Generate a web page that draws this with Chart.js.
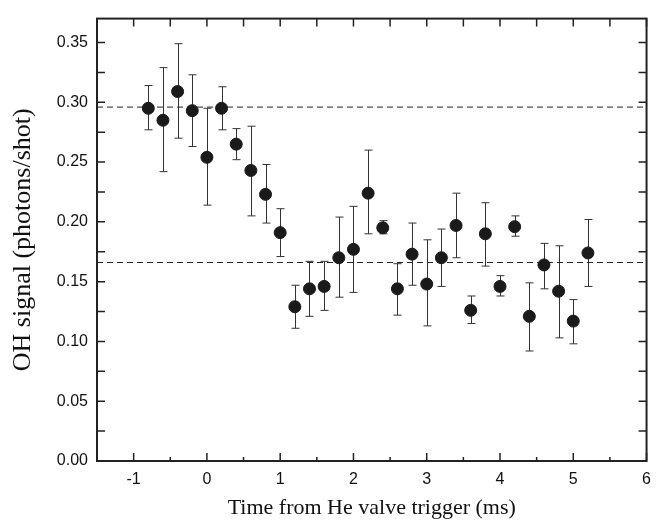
<!DOCTYPE html>
<html lang="en">
<head>
  <meta charset="UTF-8">
  <title>OH signal vs He valve trigger</title>
  <script src="https://cdn.jsdelivr.net/npm/chart.js"></script>
  <style>
    html, body { margin:0; background:#fff; }
    #wrap { width:660px; height:525px; }
  </style>
</head>
<body>
<div id="wrap"><canvas id="ohChart"></canvas></div>

<script>
// --- data ---
const times   = [-0.8,-0.6,-0.4,-0.2,0,0.2,0.4,0.6,0.8,1.0,1.2,1.4,1.6,1.8,2.0,2.2,2.4,2.6,2.8,3.0,3.2,3.4,3.6,3.8,4.0,4.2,4.4,4.6,4.8,5.0,5.2];
const signal  = [0.295,0.285,0.309,0.293,0.254,0.295,0.265,0.243,0.223,0.191,0.129,0.144,0.146,0.170,0.177,0.224,0.195,0.144,0.173,0.148,0.170,0.197,0.126,0.190,0.146,0.196,0.121,0.164,0.142,0.117,0.174];
const errHigh = [0.314,0.329,0.349,0.323,0.295,0.313,0.278,0.280,0.248,0.211,0.147,0.167,0.167,0.204,0.213,0.260,0.201,0.165,0.199,0.185,0.194,0.224,0.138,0.216,0.155,0.205,0.149,0.182,0.180,0.135,0.202];
const errLow  = [0.277,0.242,0.270,0.263,0.214,0.277,0.252,0.205,0.199,0.171,0.111,0.121,0.126,0.137,0.141,0.190,0.190,0.122,0.147,0.113,0.146,0.170,0.115,0.163,0.138,0.188,0.092,0.144,0.103,0.098,0.146];
const levelBefore = 0.296;   // upper dashed line
const levelAfter  = 0.166;   // lower dashed line

const xRange = [-1.5, 6];
const yRange = [0, 0.37];
const xTicks      = [-1,0,1,2,3,4,5,6];
const xMinorTicks = [-1.5,-0.5,0.5,1.5,2.5,3.5,4.5,5.5];
const yTicks      = [0,0.05,0.10,0.15,0.20,0.25,0.30,0.35];
const yMinorTicks = [0.025,0.075,0.125,0.175,0.225,0.275,0.325];

const xTitle = 'Time from He valve trigger (ms)';
const yTitle = 'OH signal (photons/shot)';

const INK = '#1a1a1a';

// error bars, drawn under the markers
const errorBars = {
  id:'errorBars',
  beforeDatasetsDraw(chart){
    const {ctx, scales:{x, y}} = chart;
    ctx.save();
    ctx.strokeStyle = '#333';
    ctx.lineWidth = 1;
    times.forEach((t,i) => {
      const px = Math.round(x.getPixelForValue(t)) + 0.5;
      const top = y.getPixelForValue(errHigh[i]);
      const bot = y.getPixelForValue(errLow[i]);
      ctx.beginPath();
      ctx.moveTo(px, top); ctx.lineTo(px, bot);
      ctx.moveTo(px-4, top); ctx.lineTo(px+4, top);
      ctx.moveTo(px-4, bot); ctx.lineTo(px+4, bot);
      ctx.stroke();
    });
    ctx.restore();
  }
};

// box frame with inward ticks on all four sides + rotated y title
const frame = {
  id:'frame',
  afterDraw(chart){
    const {ctx, chartArea:a, scales:{x, y}} = chart;
    ctx.save();
    ctx.strokeStyle = '#222';
    ctx.lineWidth = 1.5;
    ctx.beginPath();
    xTicks.forEach(v => {
      const p = x.getPixelForValue(v);
      ctx.moveTo(p, a.bottom); ctx.lineTo(p, a.bottom-8);
      ctx.moveTo(p, a.top);    ctx.lineTo(p, a.top+8);
    });
    xMinorTicks.forEach(v => {
      const p = x.getPixelForValue(v);
      ctx.moveTo(p, a.bottom); ctx.lineTo(p, a.bottom-4);
      ctx.moveTo(p, a.top);    ctx.lineTo(p, a.top+8);
    });
    yTicks.concat(yMinorTicks).forEach(v => {
      const p = y.getPixelForValue(v);
      ctx.moveTo(a.left, p);  ctx.lineTo(a.left+8, p);
      ctx.moveTo(a.right, p); ctx.lineTo(a.right-8, p);
    });
    ctx.stroke();
    ctx.lineWidth = 2;
    ctx.strokeRect(a.left, a.top, a.right-a.left, a.bottom-a.top);

    ctx.fillStyle = '#111';
    ctx.font = '26px "Liberation Serif", "Times New Roman", serif';
    ctx.textAlign = 'center';
    ctx.textBaseline = 'middle';
    ctx.translate(23, (a.top + a.bottom)/2);
    ctx.rotate(-Math.PI/2);
    ctx.fillText(yTitle, 0, 0);
    ctx.restore();
  }
};

const tickFont = {family:'"Liberation Sans", Arial, sans-serif', size:16};

new Chart(document.getElementById('ohChart'), {
  type:'scatter',
  data:{ datasets:[
    { label:'OH signal',
      data: times.map((t,i) => ({x:t, y:signal[i]})),
      backgroundColor:INK, borderColor:INK,
      pointRadius:6, pointHoverRadius:6 },
    { label:'before',
      data: xRange.map(v => ({x:v, y:levelBefore})),
      showLine:true, borderColor:'#222', borderWidth:1, borderDash:[6,4],
      pointRadius:0 },
    { label:'after',
      data: xRange.map(v => ({x:v, y:levelAfter})),
      showLine:true, borderColor:'#222', borderWidth:1, borderDash:[6,4],
      pointRadius:0 }
  ]},
  options:{
    responsive:true, maintainAspectRatio:false, animation:false,
    layout:{ padding:{ top:12, right:7, left:0, bottom:0 } },
    plugins:{ legend:{display:false}, tooltip:{enabled:false} },
    scales:{
      x:{
        type:'linear', min:xRange[0], max:xRange[1],
        afterBuildTicks: s => { s.ticks = xTicks.map(v => ({value:v})); },
        afterFit: s => { s.height = 64; },
        grid:{ display:false, drawTicks:false },
        border:{ display:false },
        ticks:{ font:tickFont, color:'#111', padding:9, maxRotation:0,
                callback: v => String(v) },
        title:{ display:true, text:xTitle, color:'#111',
                font:{ family:'"Liberation Serif", "Times New Roman", serif', size:22 },
                padding:{ top:0, bottom:4 } }
      },
      y:{
        type:'linear', min:yRange[0], max:yRange[1],
        afterBuildTicks: s => { s.ticks = yTicks.map(v => ({value:v})); },
        afterFit: s => { s.width = 97; },
        grid:{ display:false, drawTicks:false },
        border:{ display:false },
        ticks:{ font:tickFont, color:'#111', padding:9,
                callback: v => Number(v).toFixed(2) }
      }
    }
  },
  plugins:[errorBars, frame]
});
</script>
</body>
</html>
